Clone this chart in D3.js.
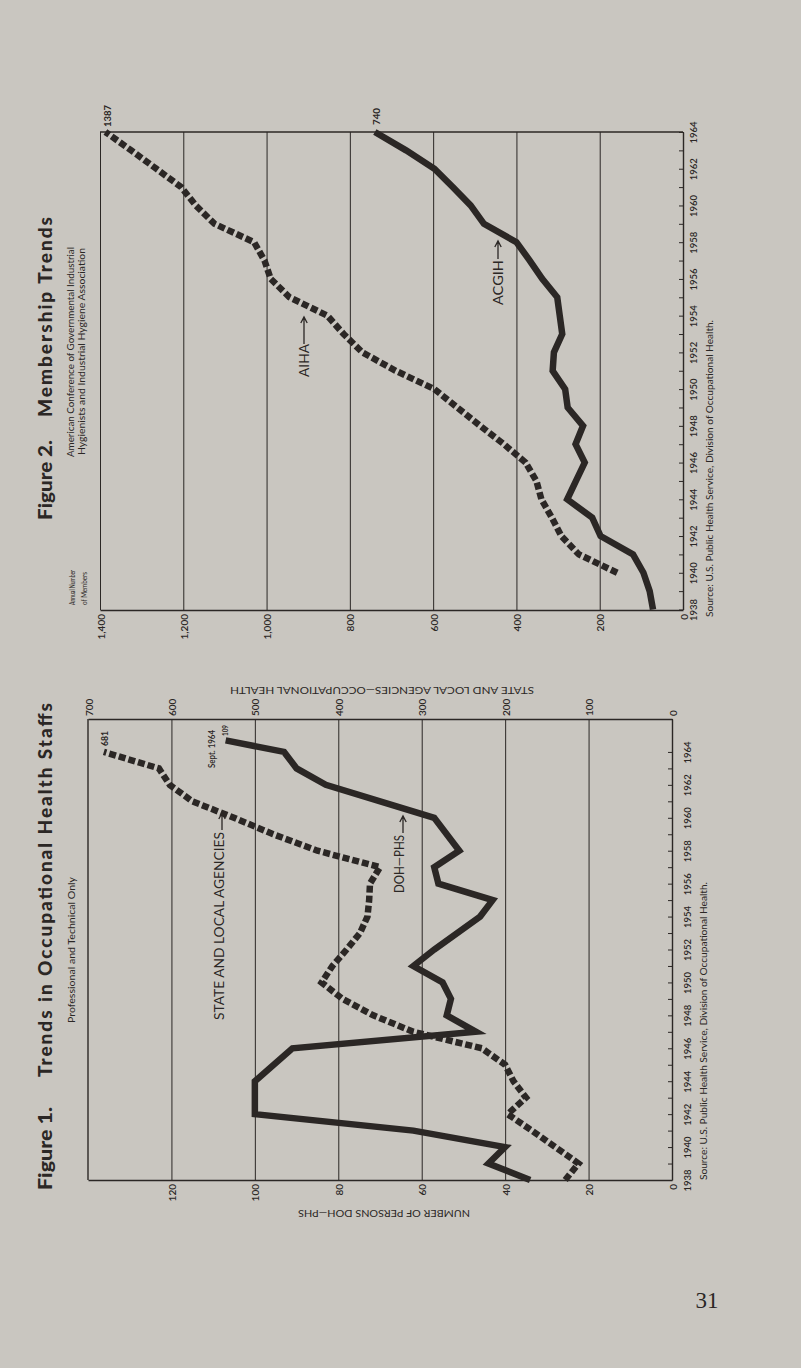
<!DOCTYPE html>
<html>
<head>
<meta charset="utf-8">
<script src="https://cdn.jsdelivr.net/npm/d3@7"></script>
<style>
html,body{margin:0;padding:0;background:#c9c6c0;}
svg{display:block;}
text{font-family:Lato,"Open Sans",sans-serif;fill:#2b2725;}
</style>
</head>
<body>
<svg id="page" width="801" height="1368"></svg>
<script>
// ---------- Figure 2: Membership Trends (annual number of members) ----------
const acgihYears   = [1938,1939,1940,1941,1942,1943,1944,1945,1946,1947,1948,1949,1950,1951,1952,1953,1954,1955,1956,1957,1958,1959,1960,1961,1962,1963,1964];
const acgihMembers = [  72,  80,  95, 120, 198, 218, 278, 257, 236, 258, 240, 277, 283, 313, 310, 290, 296, 302, 338, 368, 400, 478, 510, 553, 597, 665, 740];
const aihaYears    = [1940,1941,1942,1943,1944,1945,1946,1947,1948,1949,1950,1951,1952,1953,1954,1955,1956,1957,1958,1959,1960,1961,1962,1963,1964];
const aihaMembers  = [ 158, 250, 292, 315, 340, 352, 378, 430, 487, 542, 597, 690, 770, 815, 854, 945, 990,1005,1030,1125,1170,1205,1265,1325,1387];
const memberTicks      = [0,200,400,600,800,1000,1200,1400];
const memberTickLabels = ["0","200","400","600","800","1,000","1,200","1,400"];

// ---------- Figure 1: Trends in Occupational Health Staffs ----------
const dohYears   = [1938,1939,1940,1941,1942,1944,1946,1947,1948,1949,1950,1951,1952,1954,1955,1956,1957,1958,1960,1962,1963,1964,1964.7];
const dohPersons = [  34,  44,  40,  62, 100, 100,  91,  47,  54,  53,  55,  62,  57,  46,  43,  56,  57,  51,  57,  83,  90,  93, 107];
const stateYears   = [1938,1939,1940,1941,1942,1943,1944,1945,1946,1947,1948,1949,1950,1951,1952,1953,1954,1955,1956,1957,1958,1959,1960,1961,1962,1963,1964];
const statePersons = [ 128, 112, 140, 168, 197, 175, 190, 200, 228, 310, 358, 395, 420, 407, 390, 374, 365, 363, 362, 350, 425, 478, 525, 575, 602, 615, 681];
const dohTicks   = [0,20,40,60,80,100,120];
const stateTicks = [0,100,200,300,400,500,600,700];

const tickYears  = d3.range(1938, 1965);
const yearLabels = ["1938","1940","1942","1944","1946","1948","1950","1952","1954","1956","1958","1960","1962","1964"];

const INK = "#2b2725";
const svg = d3.select("#page");

// helper: text rotated -90deg (reads bottom-to-top)
function vtext(x, y, str, o) {
  o = o || {};
  const t = svg.append("text")
    .attr("transform", `translate(${x},${y}) rotate(-90)`)
    .attr("text-anchor", o.anchor || "start")
    .attr("dominant-baseline", "central")
    .attr("font-size", o.size || 9)
    .attr("font-weight", o.weight || 400)
    .text(str);
  if (o.len) t.attr("textLength", o.len).attr("lengthAdjust", o.adjust || "spacingAndGlyphs");
  if (o.family) t.style("font-family", o.family);
  return t;
}
function upsideText(x, y, str, o) {
  const t = svg.append("text")
    .attr("transform", `translate(${x},${y}) rotate(180)`)
    .attr("text-anchor", "middle").attr("dominant-baseline", "central")
    .attr("font-size", o.size).attr("font-weight", o.weight || 400).text(str);
  if (o.len) t.attr("textLength", o.len).attr("lengthAdjust", "spacingAndGlyphs");
  return t;
}
function arrowUp(x, y0, y1) {
  svg.append("path")
    .attr("d", `M${x},${y0}V${y1}M${x-3.2},${y1+6}L${x},${y1}L${x+3.2},${y1+6}`)
    .attr("fill", "none").attr("stroke", INK).attr("stroke-width", 1.3);
}
function styleAxis(g) {
  g.selectAll("path.domain").attr("stroke", INK).attr("stroke-width", 1.4);
  g.selectAll(".tick line").attr("stroke", INK).attr("stroke-width", 1);
}
function styleRotLabels(sel, shift, anchor) {
  sel.attr("x", 0).attr("y", 0).attr("dy", null)
    .attr("transform", `translate(0,${shift}) rotate(-90)`)
    .attr("text-anchor", anchor).attr("dominant-baseline", "central")
    .attr("font-size", 10).attr("font-weight", 600).attr("fill", INK)
    .style("font-family", "Lato, sans-serif");
}

// ================= FIGURE 2 =================
const y2 = d3.scaleLinear().domain([1938, 1964]).range([609.5, 132]);
const x2 = d3.scaleLinear().domain([0, 1400]).range([683, 100]);

const gx2 = svg.append("g").attr("transform", "translate(0,610)")
  .call(d3.axisBottom(x2).tickValues(memberTicks)
    .tickFormat((d, i) => memberTickLabels[i])
    .tickSize(-(610 - 132)).tickSizeOuter(0));
gx2.select("path.domain").attr("stroke", INK).attr("stroke-width", 1.5);
gx2.selectAll(".tick line").attr("stroke", INK).attr("stroke-width", 1);
styleRotLabels(gx2.selectAll(".tick text"), 4, "end");
svg.append("line").attr("x1", x2(1400)).attr("x2", x2(0)).attr("y1", y2(1964)).attr("y2", y2(1964))
  .attr("stroke", INK).attr("stroke-width", 1.4);

const gy2 = svg.append("g").attr("transform", `translate(${x2(0)},0)`)
  .call(d3.axisRight(y2).tickValues(tickYears)
    .tickFormat(d => yearLabels.includes(String(d)) ? String(d) : "")
    .tickSizeInner(-4).tickSizeOuter(0));
styleAxis(gy2);
gy2.selectAll(".tick text")
  .attr("x", 0).attr("dy", null)
  .attr("transform", "translate(10.5,0) rotate(-90)")
  .attr("text-anchor", "middle").attr("dominant-baseline", "central")
  .attr("font-size", 9.5).attr("font-weight", 600).attr("fill", INK)
  .style("font-family", "Lato, sans-serif");

const line2 = d3.line().x(d => x2(d[1])).y(d => y2(d[0]));
svg.append("path").datum(acgihYears.map((y, i) => [y, acgihMembers[i]]))
  .attr("d", line2).attr("fill", "none").attr("stroke", INK)
  .attr("stroke-width", 6.5).attr("stroke-linejoin", "miter");
svg.append("path").datum(aihaYears.map((y, i) => [y, aihaMembers[i]]))
  .attr("d", line2).attr("fill", "none").attr("stroke", INK)
  .attr("stroke-width", 6.5).attr("stroke-dasharray", "7,3");

vtext(x2(1387) + 2, 127, "1387", {size: 9, weight: 700, len: 22});
vtext(x2(740) + 2, 125, "740", {size: 9, weight: 700, len: 17});

vtext(304, 377, "AIHA", {size: 13, len: 33});
arrowUp(304, 344, 317);
vtext(498, 305, "ACGIH", {size: 13, len: 45});
arrowUp(498, 259, 241);

vtext(44, 520, "Figure 2.", {size: 19, weight: 900, len: 80});
vtext(44, 417, "Membership  Trends", {size: 19, weight: 900, len: 200, adjust: "spacing"});
vtext(70.5, 457, "American Conference of Governmental Industrial", {size: 8.5, len: 210});
vtext(81.5, 455, "Hygienists and Industrial Hygiene Association", {size: 8.5, len: 207});
vtext(72.5, 605, "Annual Number", {size: 7.5, len: 35});
vtext(84, 605, "of Members", {size: 7.5, len: 33});
vtext(709.5, 617, "Source: U.S. Public Health Service, Division of Occupational Health.", {size: 9.5, len: 297});

// ================= FIGURE 1 =================
const y1 = d3.scaleLinear().domain([1938, 1966]).range([1180, 719]);
const xDoh = d3.scaleLinear().domain([0, 140]).range([672, 88]);
const xState = d3.scaleLinear().domain([0, 700]).range([672, 88]);

const gx1 = svg.append("g").attr("transform", "translate(0,1180)")
  .call(d3.axisBottom(xDoh).tickValues(dohTicks)
    .tickSize(-(1180 - 719)).tickSizeOuter(0));
gx1.select("path.domain").attr("stroke", INK).attr("stroke-width", 1.5);
gx1.selectAll(".tick line").attr("stroke", INK).attr("stroke-width", 1);
styleRotLabels(gx1.selectAll(".tick text"), 4, "end");

const gs1 = svg.append("g").attr("transform", "translate(0,719)")
  .call(d3.axisTop(xState).tickValues(stateTicks).tickSize(0).tickSizeOuter(0));
gs1.select("path.domain").attr("stroke", INK).attr("stroke-width", 1.4);
styleRotLabels(gs1.selectAll(".tick text"), -3, "start");
svg.append("line").attr("x1", xDoh(140)).attr("x2", xDoh(140)).attr("y1", 719).attr("y2", 1180)
  .attr("stroke", INK).attr("stroke-width", 1.4);

const gy1 = svg.append("g").attr("transform", `translate(${xDoh(0)},0)`)
  .call(d3.axisRight(y1).tickValues(tickYears)
    .tickFormat(d => yearLabels.includes(String(d)) ? String(d) : "")
    .tickSizeInner(-4).tickSizeOuter(0));
styleAxis(gy1);
gy1.selectAll(".tick text")
  .attr("x", 0).attr("dy", null)
  .attr("transform", "translate(15,0) rotate(-90)")
  .attr("text-anchor", "middle").attr("dominant-baseline", "central")
  .attr("font-size", 9.5).attr("font-weight", 600).attr("fill", INK)
  .style("font-family", "Lato, sans-serif");

const lineDoh = d3.line().x(d => xDoh(d[1])).y(d => y1(d[0]));
const lineState = d3.line().x(d => xState(d[1])).y(d => y1(d[0]));
svg.append("path").datum(stateYears.map((y, i) => [y, statePersons[i]]))
  .attr("d", lineState).attr("fill", "none").attr("stroke", INK)
  .attr("stroke-width", 6.5).attr("stroke-dasharray", "7,3");
svg.append("path").datum(dohYears.map((y, i) => [y, dohPersons[i]]))
  .attr("d", lineDoh).attr("fill", "none").attr("stroke", INK)
  .attr("stroke-width", 6.5).attr("stroke-linejoin", "miter");

vtext(105, 746, "681", {size: 8.5, weight: 700, len: 15});
vtext(212, 768, "Sept. 1964", {size: 8.5, weight: 600, len: 38});
vtext(225, 736, "109", {size: 7.5, weight: 700, len: 11});

vtext(219, 1020, "STATE AND LOCAL AGENCIES", {size: 13, len: 188});
arrowUp(222, 830, 813);
vtext(399, 893, "DOH\u2014PHS", {size: 13, len: 58});
arrowUp(403, 833, 816);

upsideText(384, 1213, "NUMBER OF PERSONS DOH\u2014PHS", {size: 8.5, len: 172});
upsideText(382, 690, "STATE AND LOCAL AGENCIES\u2014OCCUPATIONAL HEALTH", {size: 8.5, len: 304});

vtext(44, 1190, "Figure 1.", {size: 19, weight: 900, len: 83});
vtext(44, 1077, "Trends  in  Occupational  Health  Staffs", {size: 19, weight: 900, len: 374, adjust: "spacing"});
vtext(72, 1023, "Professional and Technical Only", {size: 8.5, len: 146});
vtext(703, 1180, "Source: U.S. Public Health Service, Division of Occupational Health.", {size: 9.5, len: 298});

svg.append("text").attr("x", 707).attr("y", 1308).attr("text-anchor", "middle")
  .attr("font-size", 23).style("font-family", "'Liberation Serif','DejaVu Serif',serif")
  .text("31");
</script>
</body>
</html>
